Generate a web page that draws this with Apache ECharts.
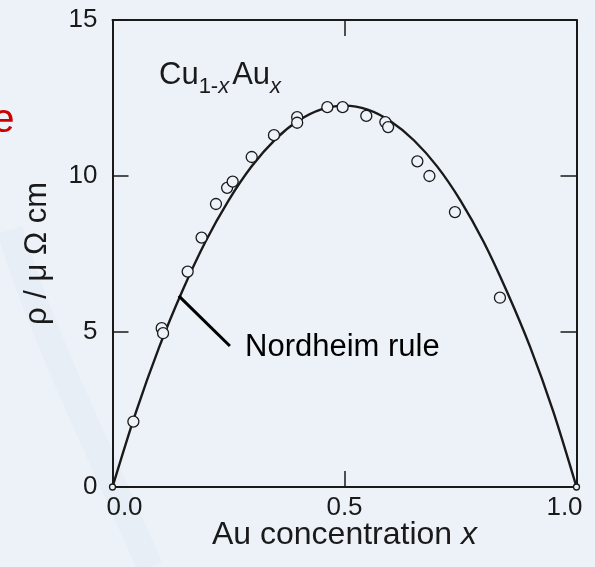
<!DOCTYPE html>
<html><head><meta charset="utf-8">
<script src="https://cdn.jsdelivr.net/npm/echarts@6/dist/echarts.min.js"></script>
<style>html,body{margin:0;padding:0;background:#edf2f9}#c{width:595px;height:567px}</style>
</head><body><div id="c"></div>
<script>
// Measured resistivity of Cu(1-x)Au(x), open circles
const measuredX = [0, 0.045, 0.106, 0.109, 0.162, 0.192, 0.223, 0.247, 0.259, 0.300, 0.348, 0.398, 0.398, 0.463, 0.496, 0.547, 0.588, 0.594, 0.657, 0.683, 0.738, 0.835, 1.0];
const measuredY = [0, 2.10, 5.10, 4.94, 6.92, 8.01, 9.09, 9.61, 9.81, 10.60, 11.30, 11.88, 11.70, 12.20, 12.20, 11.92, 11.72, 11.56, 10.46, 9.99, 8.83, 6.08, 0];
// Nordheim rule curve
const curveX = [0, 0.05, 0.10, 0.15, 0.20, 0.25, 0.30, 0.35, 0.40, 0.45, 0.50, 0.55, 0.60, 0.65, 0.70, 0.75, 0.80, 0.85, 0.90, 0.95, 1.0];
const curveY = [0, 2.38, 4.47, 6.28, 7.87, 9.20, 10.30, 11.15, 11.76, 12.13, 12.25, 12.12, 11.74, 11.13, 10.29, 9.20, 7.87, 6.28, 4.50, 2.42, 0];
const xTickLabels = ['0.0', '0.5', '1.0'];
const yTickLabels = ['0', '5', '10', '15'];
const leaderStart = [0.1427, 6.14];
const leaderEnd = [0.253, 4.53];

const FONT = '"Liberation Sans", Arial, Helvetica, sans-serif';
const INK = '#1a1a1a';
const chart = echarts.init(document.getElementById('c'), null, {renderer: 'canvas'});

const curveData = curveX.map((x, i) => [x, curveY[i]]);
const pointData = measuredX.map((x, i) => [x, measuredY[i]]);

const axisCommon = {
  type: 'value',
  axisLine: {show: true, onZero: false, lineStyle: {color: INK, width: 2}},
  axisTick: {show: true, inside: true, length: 16, lineStyle: {color: INK, width: 1.5}},
  splitLine: {show: false},
  nameMoveOverlap: false
};

chart.setOption({
  backgroundColor: '#edf2f9',
  animation: false,
  grid: {left: 112.5, right: 18.5, top: 20, bottom: 80, containLabel: false, outerBoundsMode: 'none'},
  xAxis: [
    Object.assign({}, axisCommon, {
      position: 'bottom', min: 0, max: 1, interval: 0.5,
      axisLabel: {
        fontSize: 26, color: INK, fontFamily: FONT, margin: 8,
        formatter: function (v) {
          const i = Math.round(v / 0.5);
          const t = xTickLabels[i];
          if (i === 0) return '{l|' + t + '}';
          if (i === xTickLabels.length - 1) return '{r|' + t + '}';
          return t;
        },
        rich: {
          l: {fontSize: 26, color: INK, fontFamily: FONT, padding: [0, 0, 0, 24]},
          r: {fontSize: 26, color: INK, fontFamily: FONT, padding: [0, 24, 0, 0]}
        }
      },
      name: '{n|Au concentration }{i|x}',
      nameLocation: 'middle', nameGap: 32,
      nameTextStyle: {
        fontFamily: FONT, fontSize: 32, color: INK,
        rich: {
          n: {fontFamily: FONT, fontSize: 32, color: INK},
          i: {fontFamily: FONT, fontSize: 32, color: INK, fontStyle: 'italic'}
        }
      }
    }),
    Object.assign({}, axisCommon, {
      position: 'top', min: 0, max: 1, interval: 0.5,
      axisLabel: {show: false}
    })
  ],
  yAxis: [
    Object.assign({}, axisCommon, {
      position: 'left', min: 0, max: 15, interval: 5,
      axisLabel: {
        fontSize: 26, color: INK, fontFamily: FONT, margin: 15,
        formatter: function (v) { return yTickLabels[Math.round(v / 5)]; }
      },
      name: 'ρ / μ Ω cm',
      nameLocation: 'middle', nameGap: 60, nameRotate: 90,
      nameTextStyle: {fontFamily: FONT, fontSize: 31, color: INK}
    }),
    Object.assign({}, axisCommon, {
      position: 'right', min: 0, max: 15, interval: 5,
      axisLabel: {show: false}
    })
  ],
  series: [
    {
      type: 'line', data: curveData, smooth: 0.3, showSymbol: false, symbol: 'none',
      lineStyle: {color: INK, width: 2.4}, z: 3
    },
    {
      type: 'scatter', data: pointData, symbol: 'circle',
      symbolSize: function (v) { return v[1] === 0 ? 6 : 11; },
      itemStyle: {color: '#eef3fa', borderColor: INK, borderWidth: 1.3, opacity: 1},
      z: 4
    }
  ]
});

const p1 = chart.convertToPixel({gridIndex: 0}, leaderStart);
const p2 = chart.convertToPixel({gridIndex: 0}, leaderEnd);

chart.setOption({
  graphic: [
    {
      type: 'bezierCurve', z: -10, silent: true,
      shape: {x1: 10, y1: 230, cpx1: 40, cpy1: 330, cpx2: 90, cpy2: 430, x2: 150, y2: 567},
      style: {fill: null, stroke: 'rgba(120,130,150,0.035)', lineWidth: 26, shadowBlur: 40, shadowColor: 'rgba(120,130,150,0.12)'}
    },
    {
      type: 'text', x: 14.5, y: 121, z: 10,
      style: {text: 'e', fill: '#cc0000', fontSize: 40, fontFamily: FONT, align: 'right', verticalAlign: 'middle'}
    },
    {
      type: 'text', x: 159, y: 60, z: 10,
      style: {
        text: '{m|Cu}{s|1-}{i|x}{g|Au}{i|x}', align: 'left', verticalAlign: 'top',
        rich: {
          m: {fontSize: 31, fontFamily: FONT, fill: INK, lineHeight: 38, verticalAlign: 'top'},
          g: {fontSize: 31, fontFamily: FONT, fill: INK, lineHeight: 38, verticalAlign: 'top', padding: [0, 0, 0, 3]},
          s: {fontSize: 22, fontFamily: FONT, fill: INK, lineHeight: 22, verticalAlign: 'bottom'},
          i: {fontSize: 22, fontFamily: FONT, fill: INK, lineHeight: 22, verticalAlign: 'bottom', fontStyle: 'italic'}
        }
      }
    },
    {
      type: 'line', z: 10,
      shape: {x1: p1[0], y1: p1[1], x2: p2[0], y2: p2[1]},
      style: {stroke: '#000', lineWidth: 3}
    },
    {
      type: 'text', x: 245, y: 347, z: 10,
      style: {text: 'Nordheim rule', fill: '#000', fontSize: 31, fontFamily: FONT, align: 'left', verticalAlign: 'middle'}
    }
  ]
});
</script>
</body></html>
